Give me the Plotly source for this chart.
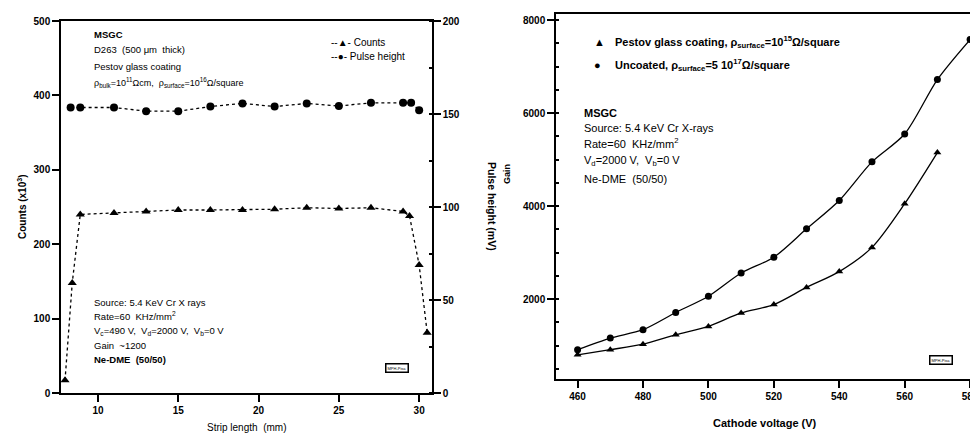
import plotly.graph_objects as go

# ---- Left panel data (strip length scan) ----
strip_counts_x = [7.95, 8.4, 8.9, 11, 13, 15, 17, 19, 21, 23, 25, 27, 29, 29.4, 30, 30.5]
counts_k = [17, 148, 240, 242, 244, 246, 246, 246, 247, 249, 248, 249, 244, 238, 172, 81]
strip_ph_x = [8.3, 8.9, 11, 13, 15, 17, 19, 21, 23, 25, 27, 29, 29.5, 30]
pulse_height = [153.5, 153.5, 153.5, 151.5, 151.5, 154, 155.7, 154, 155.7, 154.3, 156, 156, 156, 152]

# ---- Right panel data (gain vs cathode voltage) ----
volt_pestov = [460, 470, 480, 490, 500, 510, 520, 530, 540, 550, 560, 570]
gain_pestov = [800, 910, 1030, 1230, 1410, 1700, 1880, 2250, 2590, 3110, 4050, 5150]
volt_uncoated = [460, 470, 480, 490, 500, 510, 520, 530, 540, 550, 560, 570, 580]
gain_uncoated = [910, 1160, 1340, 1710, 2060, 2560, 2900, 3510, 4120, 4950, 5550, 6720, 7580]

W, H = 978, 433
OFF = 8  # page offset of the plot div
def px(x):
    return (x - OFF) / W
def py(y):
    return 1 - (y - OFF) / H

FONT = "Liberation Sans, Arial, Helvetica, sans-serif"
tickfont = dict(family=FONT, size=10, color="black", weight="bold")

fig = go.Figure()

fig.add_trace(go.Scatter(
    x=strip_counts_x, y=counts_k, name="Counts", mode="lines+markers",
    line=dict(color="black", width=1.3, dash="dot"),
    marker=dict(symbol="triangle-up", size=8, color="black"),
    xaxis="x", yaxis="y", showlegend=False, cliponaxis=False))
fig.add_trace(go.Scatter(
    x=strip_ph_x, y=pulse_height, name="Pulse height", mode="lines+markers",
    line=dict(color="black", width=1.3, dash="dot"),
    marker=dict(symbol="circle", size=8, color="black"),
    xaxis="x", yaxis="y2", showlegend=False, cliponaxis=False))

# right panel: smooth curves through the points
fig.add_trace(go.Scatter(
    x=volt_pestov, y=gain_pestov, mode="lines+markers", showlegend=False,
    name="Pestov glass coating",
    line=dict(color="black", width=1.3, shape="spline", smoothing=0.8),
    marker=dict(symbol="triangle-up", size=7, color="black"),
    xaxis="x2", yaxis="y3", cliponaxis=False))
fig.add_trace(go.Scatter(
    x=volt_uncoated, y=gain_uncoated, mode="lines+markers", showlegend=False,
    name="Uncoated",
    line=dict(color="black", width=1.3, shape="spline", smoothing=0.8),
    marker=dict(symbol="circle", size=7, color="black"),
    xaxis="x2", yaxis="y3", cliponaxis=False))

axis_common = dict(showgrid=False, zeroline=False, showline=True, linecolor="black",
                   linewidth=1.5, ticks="outside", tickcolor="black", ticklen=7,
                   tickwidth=1.5, tickfont=tickfont, ticklabeloverflow="allow")

fig.update_layout(
    width=W, height=H, margin=dict(l=0, r=0, t=0, b=0, pad=0, autoexpand=False),
    paper_bgcolor="white", plot_bgcolor="white", showlegend=False,
    font=dict(family=FONT, color="black"),
    xaxis=dict(domain=[px(61), px(432)], range=[7.7, 30.8], tickvals=[10, 15, 20, 25, 30],
               anchor="y", mirror=True, **axis_common),
    yaxis=dict(domain=[py(393), py(21)], range=[0, 500], dtick=100, anchor="x",
               mirror=True, **axis_common),
    yaxis2=dict(overlaying="y", side="right", range=[0, 200], dtick=50, anchor="x",
                minor=dict(ticks="inside", ticklen=3, dtick=25, tickcolor="black"),
                **axis_common),
    xaxis2=dict(domain=[px(556), px(975)], range=[453.4, 581.5],
                tickvals=[460, 480, 500, 520, 540, 560, 580], anchor="y3", mirror=True,
                **axis_common),
    yaxis3=dict(domain=[py(379), py(14)], range=[280, 8130],
                tickvals=[2000, 4000, 6000, 8000], anchor="x2", mirror=True,
                minor=dict(ticks="inside", ticklen=3, dtick=500, tickcolor="black"),
                **axis_common),
)

ann = []
def text(x, y, s, size=10, bold=False, angle=0, xanchor="left"):
    ann.append(dict(x=px(x), y=py(y), xref="paper", yref="paper", text=s,
                    showarrow=False, xanchor=xanchor, yanchor="middle", textangle=angle,
                    font=dict(family=FONT, size=size, color="black",
                              weight="bold" if bold else "normal")))

# left panel legend (drawn as text, matching the compact original)
text(329, 43, "--▲- Counts", 10)
text(329, 57, "--●- Pulse height", 10)

# left panel texts
text(92, 34, "MSGC", 9.5, True)
text(92, 50, "D263  (500 μm  thick)", 9.5)
text(92, 66, "Pestov glass coating", 9.5)
text(92, 82, "ρ<sub>bulk</sub>=10<sup>11</sup>Ωcm,  ρ<sub>surface</sub>=10<sup>16</sup>Ω/square", 9)
text(92, 302, "Source: 5.4 KeV Cr X rays", 9.5)
text(92, 316, "Rate=60  KHz/mm<sup>2</sup>", 9.5)
text(92, 331, "V<sub>c</sub>=490 V,  V<sub>d</sub>=2000 V,  V<sub>b</sub>=0 V", 9.5)
text(92, 345, "Gain  ~1200", 9.5)
text(92, 359, "Ne-DME  (50/50)", 9.5, True)
text(22, 207, "Counts (x10<sup>3</sup>)", 10, True, -90, "center")
text(246, 427, "Strip length  (mm)", 10, False, 0, "center")
text(492, 206, "Pulse height (mV)", 10.5, True, 90, "center")

# right panel legend
text(592, 42, "▲", 11, True)
text(613, 42, "Pestov glass coating, ρ<sub>surface</sub>=10<sup>15</sup>Ω/square", 11, True)
text(592, 65, "●", 11, True)
text(613, 65, "Uncoated, ρ<sub>surface</sub>=5 10<sup>17</sup>Ω/square", 11, True)

# right panel texts
text(582, 113, "MSGC", 11, True)
text(582, 128, "Source: 5.4 KeV Cr X-rays", 11)
text(582, 143, "Rate=60  KHz/mm<sup>2</sup>", 11)
text(582, 161, "V<sub>d</sub>=2000 V,  V<sub>b</sub>=0 V", 11)
text(582, 179, "Ne-DME  (50/50)", 11)
text(507, 174, "Gain", 9, True, -90, "center")
text(765, 423, "Cathode voltage (V)", 11, True, 0, "center")

# small logos
for (x, y) in [(397, 373), (953, 365)]:
    ann.append(dict(x=px(x), y=py(y), xref="paper", yref="paper", text="MPH-Pisa",
                    showarrow=False, font=dict(family=FONT, size=4, color="black"),
                    bordercolor="black", borderwidth=1.5, borderpad=1, bgcolor="white"))

fig.update_layout(annotations=ann)
fig.write_html("out.html")
